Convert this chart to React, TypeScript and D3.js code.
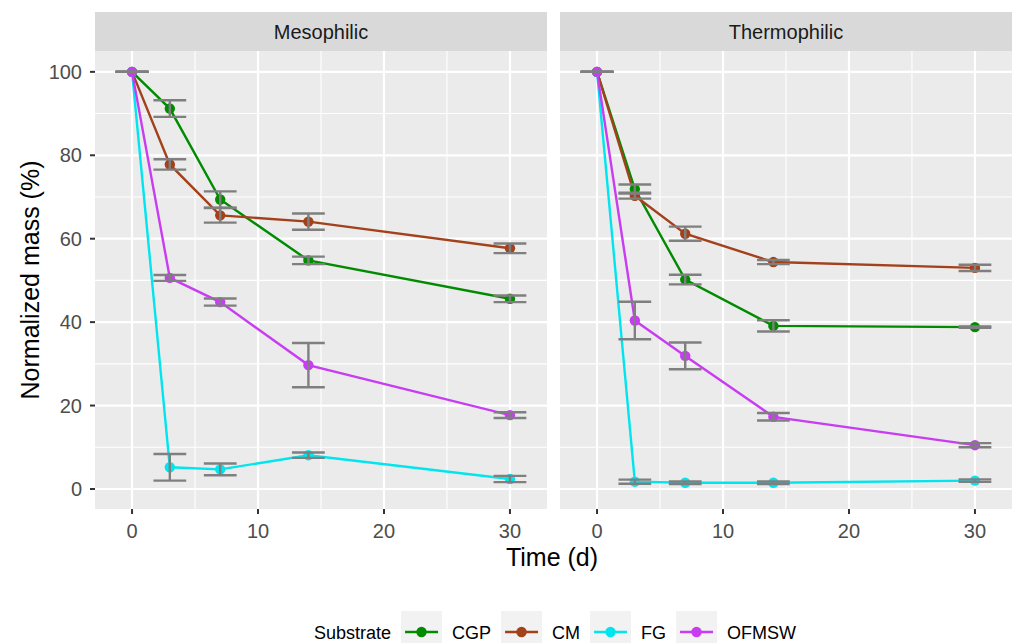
import React, { useMemo } from "react";
import * as d3 from "d3";

// sampling days
const days = [0, 3, 7, 14, 30];

const substrates = ["CGP", "CM", "FG", "OFMSW"];
const colors = ["#008B00", "#A3411B", "#00E5EE", "#C83CF2"];
const panels = ["Mesophilic", "Thermophilic"];

// Mesophilic means and error (+/-)
const mesoCGP = [100, 91.2, 69.4, 54.8, 45.6];
const mesoCGPerr = [0, 2.0, 1.95, 0.9, 0.8];
const mesoCM = [100, 77.8, 65.6, 64.1, 57.7];
const mesoCMerr = [0, 1.25, 1.75, 1.95, 1.15];
const mesoFG = [100, 5.2, 4.7, 8.1, 2.4];
const mesoFGerr = [0, 3.2, 1.4, 0.65, 0.75];
const mesoOFMSW = [100, 50.6, 44.8, 29.7, 17.7];
const mesoOFMSWerr = [0, 0.7, 0.85, 5.3, 0.7];

// Thermophilic
const thermoCGP = [100, 71.9, 50.2, 39.1, 38.8];
const thermoCGPerr = [0, 1.1, 1.15, 1.35, 0.15];
const thermoCM = [100, 70.3, 61.2, 54.4, 53.0];
const thermoCMerr = [0, 0.7, 1.7, 0.5, 0.75];
const thermoFG = [100, 1.75, 1.5, 1.5, 2.0];
const thermoFGerr = [0, 0.5, 0.3, 0.3, 0.3];
const thermoOFMSW = [100, 40.4, 31.9, 17.3, 10.5];
const thermoOFMSWerr = [0, 4.5, 3.2, 0.9, 0.5];

const xTicks = [0, 10, 20, 30];
const xMinor = [5, 15, 25];
const yTicks = [0, 20, 40, 60, 80, 100];
const yMinor = [10, 30, 50, 70, 90];

const panelValues = [
  [mesoCGP, mesoCM, mesoFG, mesoOFMSW],
  [thermoCGP, thermoCM, thermoFG, thermoOFMSW],
];
const panelErrors = [
  [mesoCGPerr, mesoCMerr, mesoFGerr, mesoOFMSWerr],
  [thermoCGPerr, thermoCMerr, thermoFGerr, thermoOFMSWerr],
];

const W = 1012;
const H = 643;
const FONT = "'Liberation Sans', Arial, Helvetica, sans-serif";
const panelLefts = [95, 560];
const panelW = 452;
const stripTop = 12;
const panelTop = 51;
const panelBottom = 509;
const capHalf = 1.3;

function measure(text: string, size: number) {
  const c = document.createElement("canvas").getContext("2d");
  if (!c) return text.length * size * 0.55;
  c.font = `${size}px ${FONT}`;
  return c.measureText(text).width;
}

const Panel = ({ idx }: { idx: number }) => {
  const left = panelLefts[idx];
  const x = d3.scaleLinear().domain([-2.94, 32.94]).range([left, left + panelW]);
  const y = d3.scaleLinear().domain([-4.8, 105]).range([panelBottom, panelTop]);
  const line = d3
    .line<[number, number]>()
    .x((d) => x(d[0]))
    .y((d) => y(d[1]));
  const vals = panelValues[idx];
  const errs = panelErrors[idx];

  return (
    <g>
      <rect x={left} y={stripTop} width={panelW} height={panelTop - stripTop} fill="#D9D9D9" />
      <text
        x={left + panelW / 2}
        y={(stripTop + panelTop) / 2 + 7}
        textAnchor="middle"
        fontSize={20}
        fill="#1A1A1A"
      >
        {panels[idx]}
      </text>
      <rect x={left} y={panelTop} width={panelW} height={panelBottom - panelTop} fill="#EBEBEB" />
      {yMinor.map((t) => (
        <line key={"ym" + t} x1={left} x2={left + panelW} y1={y(t)} y2={y(t)} stroke="#fff" strokeWidth={1.1} />
      ))}
      {xMinor.map((t) => (
        <line key={"xm" + t} x1={x(t)} x2={x(t)} y1={panelTop} y2={panelBottom} stroke="#fff" strokeWidth={1.1} />
      ))}
      {yTicks.map((t) => (
        <line key={"yg" + t} x1={left} x2={left + panelW} y1={y(t)} y2={y(t)} stroke="#fff" strokeWidth={2.2} />
      ))}
      {xTicks.map((t) => (
        <line key={"xg" + t} x1={x(t)} x2={x(t)} y1={panelTop} y2={panelBottom} stroke="#fff" strokeWidth={2.2} />
      ))}
      {/* lines */}
      {vals.map((v, s) => (
        <path
          key={"l" + s}
          d={line(days.map((d, i) => [d, v[i]] as [number, number])) || ""}
          fill="none"
          stroke={colors[s]}
          strokeWidth={2.4}
        />
      ))}
      {/* points */}
      {vals.map((v, s) =>
        days.map((d, i) => <circle key={`p${s}-${i}`} cx={x(d)} cy={y(v[i])} r={5.2} fill={colors[s]} />)
      )}
      {/* error bars */}
      {vals.map((v, s) =>
        days.map((d, i) => {
          const lo = y(v[i] - errs[s][i]);
          const hi = y(v[i] + errs[s][i]);
          const x1 = x(d - capHalf);
          const x2 = x(d + capHalf);
          return (
            <g key={`e${s}-${i}`} stroke="#7F7F7F" strokeWidth={2.4} fill="none">
              <line x1={x(d)} x2={x(d)} y1={lo} y2={hi} />
              <line x1={x1} x2={x2} y1={lo} y2={lo} />
              <line x1={x1} x2={x2} y1={hi} y2={hi} />
            </g>
          );
        })
      )}
      {/* x axis */}
      {xTicks.map((t) => (
        <g key={"xt" + t}>
          <line x1={x(t)} x2={x(t)} y1={panelBottom} y2={panelBottom + 5} stroke="#333" strokeWidth={2} />
          <text x={x(t)} y={538} textAnchor="middle" fontSize={20} fill="#4D4D4D">
            {t}
          </text>
        </g>
      ))}
      {idx === 0 &&
        yTicks.map((t) => (
          <g key={"yt" + t}>
            <line x1={left - 5} x2={left} y1={y(t)} y2={y(t)} stroke="#333" strokeWidth={2} />
            <text x={82} y={y(t) + 7} textAnchor="end" fontSize={20} fill="#4D4D4D">
              {t}
            </text>
          </g>
        ))}
    </g>
  );
};

const Legend = () => {
  const layout = useMemo(() => {
    const titleSize = 18;
    const textSize = 18;
    const keyW = 41;
    const gap = 10;
    const titleW = measure("Substrate", titleSize);
    const labelW = substrates.map((s) => measure(s, textSize));
    let total = titleW + gap;
    labelW.forEach((w, i) => {
      total += keyW + gap + w + (i < labelW.length - 1 ? gap : 0);
    });
    let cx = 555 - total / 2;
    const titleX = cx;
    cx += titleW + gap;
    const items = substrates.map((s, i) => {
      const keyX = cx;
      const textX = keyX + keyW + gap;
      cx = textX + labelW[i] + gap;
      return { s, i, keyX, textX };
    });
    return { titleX, items, keyW, titleSize, textSize };
  }, []);

  const keyTop = 611;
  const keyMid = 632;
  return (
    <g>
      <text x={layout.titleX} y={638.5} fontSize={layout.titleSize} fill="#000">
        Substrate
      </text>
      {layout.items.map((it) => (
        <g key={it.s}>
          <rect x={it.keyX} y={keyTop} width={layout.keyW} height={42} fill="#F2F2F2" />
          <line
            x1={it.keyX + 4}
            x2={it.keyX + layout.keyW - 4}
            y1={keyMid}
            y2={keyMid}
            stroke={colors[it.i]}
            strokeWidth={2.4}
          />
          <circle cx={it.keyX + layout.keyW / 2} cy={keyMid} r={5.2} fill={colors[it.i]} />
          <text x={it.textX} y={638.5} fontSize={layout.textSize} fill="#000">
            {it.s}
          </text>
        </g>
      ))}
    </g>
  );
};

export default function App() {
  return (
    <div style={{ position: "absolute", left: 0, top: 0 }}>
      <svg width={W} height={H} style={{ display: "block", fontFamily: FONT }}>
        <rect width={W} height={H} fill="#fff" />
        <Panel idx={0} />
        <Panel idx={1} />
        <text x={552} y={566} textAnchor="middle" fontSize={25} fill="#000">
          Time (d)
        </text>
        <text transform="translate(39,280) rotate(-90)" textAnchor="middle" fontSize={25} fill="#000">
          Normalized mass (%)
        </text>
        <Legend />
      </svg>
    </div>
  );
}
